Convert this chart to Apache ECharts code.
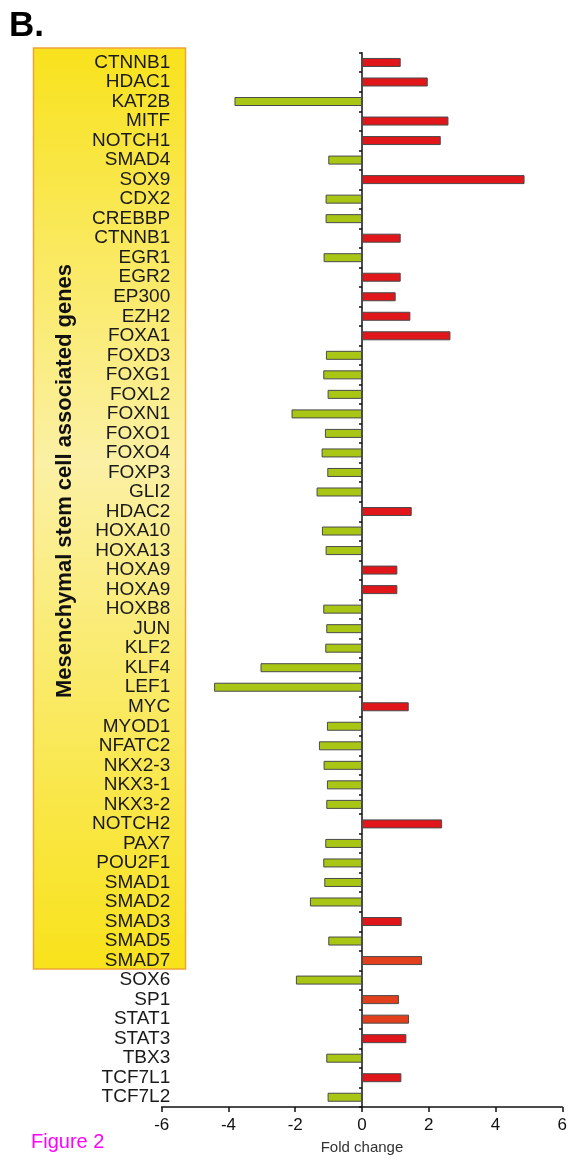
<!DOCTYPE html>
<html>
<head>
<meta charset="utf-8">
<script src="https://cdn.jsdelivr.net/npm/echarts@6/dist/echarts.min.js"></script>
<style>
html,body{margin:0;padding:0;background:#fff;}
#chart{width:570px;height:1160px;}
</style>
</head>
<body>
<div id="chart"></div>
<script>
const genes = ["CTNNB1","HDAC1","KAT2B","MITF","NOTCH1","SMAD4","SOX9","CDX2","CREBBP","CTNNB1","EGR1","EGR2","EP300","EZH2","FOXA1","FOXD3","FOXG1","FOXL2","FOXN1","FOXO1","FOXO4","FOXP3","GLI2","HDAC2","HOXA10","HOXA13","HOXA9","HOXA9","HOXB8","JUN","KLF2","KLF4","LEF1","MYC","MYOD1","NFATC2","NKX2-3","NKX3-1","NKX3-2","NOTCH2","PAX7","POU2F1","SMAD1","SMAD2","SMAD3","SMAD5","SMAD7","SOX6","SP1","STAT1","STAT3","TBX3","TCF7L1","TCF7L2"];
const foldChange = [1.16,1.97,-3.82,2.59,2.36,-1.01,4.87,-1.09,-1.09,1.16,-1.15,1.16,1.01,1.45,2.65,-1.08,-1.16,-1.03,-2.11,-1.11,-1.21,-1.04,-1.36,1.49,-1.20,-1.09,1.06,1.06,-1.16,-1.07,-1.10,-3.04,-4.43,1.40,-1.05,-1.29,-1.15,-1.05,-1.07,2.40,-1.10,-1.16,-1.13,-1.56,1.19,-1.01,1.80,-1.98,1.11,1.41,1.33,-1.07,1.18,-1.03];
const xTicks = [-6,-4,-2,0,2,4,6];
const orangeGenes = ["SMAD7","SP1","STAT1"];
const panelLabel = "B.";
const figureLabel = "Figure 2";
const boxTitle = "Mesenchymal stem cell associated genes";
const axisTitle = "Fold change";

const chart = echarts.init(document.getElementById('chart'), null, {renderer:'canvas'});
const FONT = "Liberation Sans, Arial, sans-serif";

const option = {
  animation: false,
  backgroundColor: '#ffffff',
  grid: {left: 161.7, right: 6, top: 52.7, bottom: 51, containLabel: false},
  xAxis: {
    type: 'value', min: xTicks[0], max: xTicks[xTicks.length-1], interval: 2,
    axisLine: {show: true, onZero: false, lineStyle: {color: '#111', width: 1.5}},
    axisTick: {show: true, length: 5, lineStyle: {color: '#111', width: 1.5}},
    axisLabel: {color: '#111', fontSize: 17, fontFamily: FONT, margin: 10},
    splitLine: {show: false},
    name: axisTitle, nameLocation: 'middle', nameGap: 33,
    nameTextStyle: {color: '#333', fontSize: 15, fontFamily: FONT}
  },
  yAxis: [
    {
      type: 'category', data: genes, inverse: true, position: 'left',
      axisLine: {show: false, onZero: false},
      axisTick: {show: false},
      axisLabel: {color: '#1a1a1a', fontSize: 19, fontFamily: FONT, margin: -8.5, interval: 0}
    },
    {
      type: 'category', data: genes, inverse: true, position: 'left',
      axisLine: {show: true, onZero: true, lineStyle: {color: '#111', width: 1.5}},
      axisTick: {show: true, length: 3, inside: false, lineStyle: {color: '#111', width: 1.5}, interval: 0},
      axisLabel: {show: false}
    }
  ],
  graphic: [
    {
      type: 'rect', z: -10, silent: true,
      shape: {x: 33.5, y: 48, width: 152, height: 921},
      style: {
        fill: new echarts.graphic.LinearGradient(0, 0, 0, 1, [
          {offset: 0, color: '#f8e21c'},
          {offset: 0.45, color: '#fbf0a4'},
          {offset: 1, color: '#f8e21a'}
        ]),
        stroke: '#efa23a', lineWidth: 1.5
      }
    },
    {
      type: 'text', z: 10, silent: true,
      x: 65, y: 481, rotation: Math.PI / 2,
      style: {text: boxTitle, fill: '#111', font: 'bold 22px ' + FONT, align: 'center', verticalAlign: 'middle'}
    },
    {
      type: 'text', z: 10, silent: true, x: 9, y: 26,
      style: {text: panelLabel, fill: '#000', font: 'bold 35px ' + FONT, align: 'left', verticalAlign: 'middle'}
    },
    {
      type: 'text', z: 10, silent: true, x: 31, y: 1142,
      style: {text: figureLabel, fill: '#ff00ff', font: '20px ' + FONT, align: 'left', verticalAlign: 'middle'}
    }
  ],
  series: [{
    type: 'bar', yAxisIndex: 0, xAxisIndex: 0,
    data: foldChange,
    barWidth: 9,
    itemStyle: {
      borderColor: '#4a4a4a', borderWidth: 1,
      color: function (p) {
        if (p.value < 0) return '#a9c614';
        if (orangeGenes.indexOf(genes[p.dataIndex]) >= 0) return '#e2401c';
        return '#e0161a';
      }
    }
  }]
};
chart.setOption(option);
</script>
</body>
</html>
